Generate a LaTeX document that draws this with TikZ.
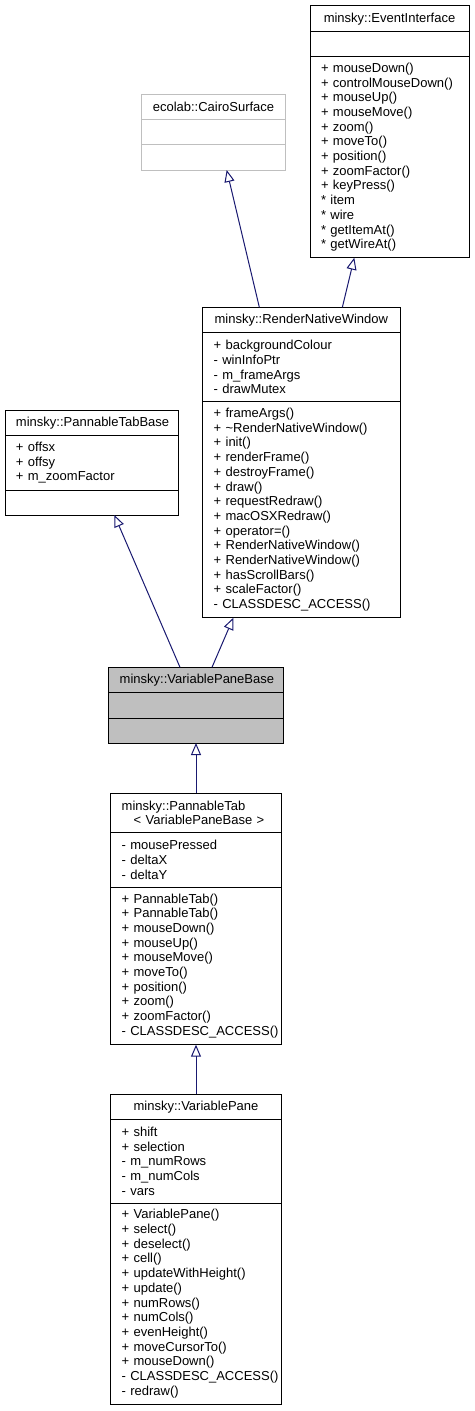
\documentclass[tikz,border=0pt]{standalone}
\usepackage{fontspec}
\setmainfont{Liberation Sans}
\usetikzlibrary{positioning,arrows.meta}
\definecolor{edgeblue}{HTML}{191970}
\definecolor{greyline}{HTML}{BFBFBF}
\definecolor{basegrey}{HTML}{BFBFBF}
\hyphenpenalty=10000
\exhyphenpenalty=10000
\hbadness=10000
\hfuzz=20pt

\begin{document}
\begin{tikzpicture}[x=1pt,y=-1pt,
  every node/.style={font=\fontsize{13}{14.7}\selectfont},
  head/.style={draw, line width=1pt, outer sep=0pt, inner xsep=11pt, inner ysep=0pt, align=center, anchor=north west},
  part/.style={draw, line width=1pt, outer sep=0pt, inner xsep=11pt, inner ysep=0pt, align=left},
  inherit/.style={draw=edgeblue, line width=1pt, -{Triangle[open,length=12pt,width=10pt]}}]

\useasboundingbox (0,0) rectangle (474,1411);

% Top row: the two base classes of the render window
\node[head, text width=137pt, minimum height=26pt] (ei-head) at (310,5.7) {minsky::EventInterface};
\node[part, text width=137pt, minimum height=25pt, below=0pt of ei-head] (ei-attr) {};
\node[part, text width=137pt, minimum height=201pt, below=0pt of ei-attr] (ei-ops)
  {+ mouseDown()\\+ controlMouseDown()\\+ mouseUp()\\+ mouseMove()\\+ zoom()\\+ moveTo()\\+ position()\\+ zoomFactor()\\+ keyPress()\\{*} item\\{*} wire\\{*} getItemAt()\\{*} getWireAt()};

\node[head, draw=greyline, text width=121.6pt, minimum height=25pt] (cs-head) at (141.7,94) {ecolab::CairoSurface};
\node[part, draw=greyline, text width=121.6pt, minimum height=25.3pt, below=0pt of cs-head] (cs-attr) {};
\node[part, draw=greyline, text width=121.6pt, minimum height=25.7pt, below=0pt of cs-attr] (cs-ops) {};

% Render window and pannable base
\node[head, text width=175.3pt, minimum height=25.4pt] (rnw-head) at (202.7,307.3) {minsky::RenderNativeWindow};
\node[part, text width=175.3pt, minimum height=69pt, below=0pt of rnw-head] (rnw-attr)
  {+ backgroundColour\\- winInfoPtr\\- m\_frameArgs\\- drawMutex};
\node[part, text width=175.3pt, minimum height=216pt, below=0pt of rnw-attr] (rnw-ops)
  {+ frameArgs()\\+ \textasciitilde RenderNativeWindow()\\+ init()\\+ renderFrame()\\+ destroyFrame()\\+ draw()\\+ requestRedraw()\\+ macOSXRedraw()\\+ operator=()\\+ RenderNativeWindow()\\+ RenderNativeWindow()\\+ hasScrollBars()\\+ scaleFactor()\\-~CLASSDESC\_ACCESS()};

\node[head, text width=151.7pt, minimum height=25.3pt] (ptb-head) at (5,410) {minsky::PannableTabBase};
\node[part, text width=151.7pt, minimum height=55pt, below=0pt of ptb-head] (ptb-attr)
  {+ offsx\\+ offsy\\+ m\_zoomFactor};
\node[part, text width=151.7pt, minimum height=24.7pt, below=0pt of ptb-attr] (ptb-ops) {};

% The class in focus
\node[head, fill=basegrey, text width=152.6pt, minimum height=25.4pt] (vpb-head) at (108.7,667.3) {minsky::VariablePaneBase};
\node[part, fill=basegrey, text width=152.6pt, minimum height=25.3pt, below=0pt of vpb-head] (vpb-attr) {};
\node[part, fill=basegrey, text width=152.6pt, minimum height=25pt, below=0pt of vpb-attr] (vpb-ops) {};

% Derived classes
\node[head, align=left, text width=148.6pt, minimum height=39.7pt] (pt-head) at (110.7,793)
  {minsky::PannableTab\\\hspace*{12pt}< VariablePaneBase >};
\node[part, text width=148.6pt, minimum height=54.3pt, below=0pt of pt-head] (pt-attr)
  {- mousePressed\\- deltaX\\- deltaY};
\node[part, text width=148.6pt, minimum height=157.7pt, below=0pt of pt-attr] (pt-ops)
  {+ PannableTab()\\+ PannableTab()\\+ mouseDown()\\+ mouseUp()\\+ mouseMove()\\+ moveTo()\\+ position()\\+ zoom()\\+ zoomFactor()\\-~CLASSDESC\_ACCESS()};

\node[head, text width=148.6pt, minimum height=25.3pt] (vp-head) at (110.7,1094) {minsky::VariablePane};
\node[part, text width=148.6pt, minimum height=84pt, below=0pt of vp-head] (vp-attr)
  {+ shift\\+ selection\\- m\_numRows\\- m\_numCols\\- vars};
\node[part, text width=148.6pt, minimum height=200.7pt, below=0pt of vp-attr] (vp-ops)
  {+ VariablePane()\\+ select()\\+ deselect()\\+ cell()\\+ updateWithHeight()\\+ update()\\+ numRows()\\+ numCols()\\+ evenHeight()\\+ moveCursorTo()\\+ mouseDown()\\-~CLASSDESC\_ACCESS()\\- redraw()};

% Inheritance arrows
\draw[inherit] ([xshift=-42pt]rnw-head.north) -- ([xshift=13.2pt]cs-ops.south);
\draw[inherit] ([xshift=41pt]rnw-head.north) -- ([xshift=-35.2pt]ei-ops.south);
\draw[inherit] ([xshift=-16pt]vpb-head.north) -- ([xshift=22.5pt]ptb-ops.south);
\draw[inherit] ([xshift=16pt]vpb-head.north) -- ([xshift=-68pt]rnw-ops.south);
\draw[inherit] (pt-head.north) -- (vpb-ops.south);
\draw[inherit] (vp-head.north) -- (pt-ops.south);

\end{tikzpicture}
\end{document}
